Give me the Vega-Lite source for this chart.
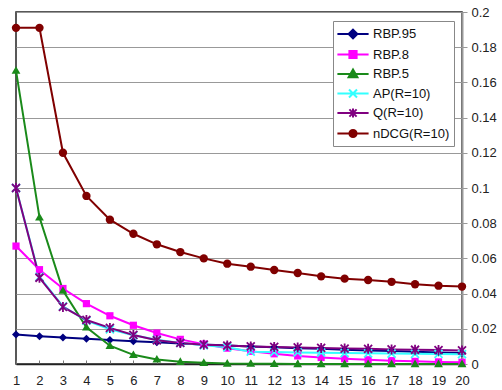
{
  "$schema": "https://vega.github.io/schema/vega-lite/v6.json",
  "width": 446,
  "height": 352,
  "autosize": "none",
  "padding": {"left": 16, "top": 12, "right": 40, "bottom": 26},
  "config": {
    "view": {"stroke": "#222", "strokeWidth": 1.5},
    "font": "Liberation Sans"
  },
  "data": {"values": [
    {"rank":1,"series":"RBP.95","value":0.0167},{"rank":2,"series":"RBP.95","value":0.0158},{"rank":3,"series":"RBP.95","value":0.0150},{"rank":4,"series":"RBP.95","value":0.0143},{"rank":5,"series":"RBP.95","value":0.0136},{"rank":6,"series":"RBP.95","value":0.0129},{"rank":7,"series":"RBP.95","value":0.0123},{"rank":8,"series":"RBP.95","value":0.0116},{"rank":9,"series":"RBP.95","value":0.0111},{"rank":10,"series":"RBP.95","value":0.0105},{"rank":11,"series":"RBP.95","value":0.0100},{"rank":12,"series":"RBP.95","value":0.0095},{"rank":13,"series":"RBP.95","value":0.0090},{"rank":14,"series":"RBP.95","value":0.0086},{"rank":15,"series":"RBP.95","value":0.0081},{"rank":16,"series":"RBP.95","value":0.0077},{"rank":17,"series":"RBP.95","value":0.0074},{"rank":18,"series":"RBP.95","value":0.0070},{"rank":19,"series":"RBP.95","value":0.0066},{"rank":20,"series":"RBP.95","value":0.0063},
    {"rank":1,"series":"RBP.8","value":0.0670},{"rank":2,"series":"RBP.8","value":0.0536},{"rank":3,"series":"RBP.8","value":0.0429},{"rank":4,"series":"RBP.8","value":0.0343},{"rank":5,"series":"RBP.8","value":0.0274},{"rank":6,"series":"RBP.8","value":0.0220},{"rank":7,"series":"RBP.8","value":0.0176},{"rank":8,"series":"RBP.8","value":0.0140},{"rank":9,"series":"RBP.8","value":0.0113},{"rank":10,"series":"RBP.8","value":0.0090},{"rank":11,"series":"RBP.8","value":0.0072},{"rank":12,"series":"RBP.8","value":0.0058},{"rank":13,"series":"RBP.8","value":0.0046},{"rank":14,"series":"RBP.8","value":0.0037},{"rank":15,"series":"RBP.8","value":0.0030},{"rank":16,"series":"RBP.8","value":0.0024},{"rank":17,"series":"RBP.8","value":0.0019},{"rank":18,"series":"RBP.8","value":0.0015},{"rank":19,"series":"RBP.8","value":0.0012},{"rank":20,"series":"RBP.8","value":0.0010},
    {"rank":1,"series":"RBP.5","value":0.1667},{"rank":2,"series":"RBP.5","value":0.0833},{"rank":3,"series":"RBP.5","value":0.0417},{"rank":4,"series":"RBP.5","value":0.0208},{"rank":5,"series":"RBP.5","value":0.0104},{"rank":6,"series":"RBP.5","value":0.0052},{"rank":7,"series":"RBP.5","value":0.0026},{"rank":8,"series":"RBP.5","value":0.0013},{"rank":9,"series":"RBP.5","value":0.0007},{"rank":10,"series":"RBP.5","value":0.0003},{"rank":11,"series":"RBP.5","value":0.0002},{"rank":12,"series":"RBP.5","value":0.0001},{"rank":13,"series":"RBP.5","value":0.0},{"rank":14,"series":"RBP.5","value":0.0},{"rank":15,"series":"RBP.5","value":0.0},{"rank":16,"series":"RBP.5","value":0.0},{"rank":17,"series":"RBP.5","value":0.0},{"rank":18,"series":"RBP.5","value":0.0},{"rank":19,"series":"RBP.5","value":0.0},{"rank":20,"series":"RBP.5","value":0.0},
    {"rank":1,"series":"AP(R=10)","value":0.1000},{"rank":2,"series":"AP(R=10)","value":0.0495},{"rank":3,"series":"AP(R=10)","value":0.0328},{"rank":4,"series":"AP(R=10)","value":0.0246},{"rank":5,"series":"AP(R=10)","value":0.0197},{"rank":6,"series":"AP(R=10)","value":0.0163},{"rank":7,"series":"AP(R=10)","value":0.0138},{"rank":8,"series":"AP(R=10)","value":0.0120},{"rank":9,"series":"AP(R=10)","value":0.0106},{"rank":10,"series":"AP(R=10)","value":0.0095},{"rank":11,"series":"AP(R=10)","value":0.0070},{"rank":12,"series":"AP(R=10)","value":0.0068},{"rank":13,"series":"AP(R=10)","value":0.0066},{"rank":14,"series":"AP(R=10)","value":0.0064},{"rank":15,"series":"AP(R=10)","value":0.0062},{"rank":16,"series":"AP(R=10)","value":0.0061},{"rank":17,"series":"AP(R=10)","value":0.0059},{"rank":18,"series":"AP(R=10)","value":0.0058},{"rank":19,"series":"AP(R=10)","value":0.0057},{"rank":20,"series":"AP(R=10)","value":0.0056},
    {"rank":1,"series":"Q(R=10)","value":0.1000},{"rank":2,"series":"Q(R=10)","value":0.0490},{"rank":3,"series":"Q(R=10)","value":0.0324},{"rank":4,"series":"Q(R=10)","value":0.0250},{"rank":5,"series":"Q(R=10)","value":0.0205},{"rank":6,"series":"Q(R=10)","value":0.0165},{"rank":7,"series":"Q(R=10)","value":0.0135},{"rank":8,"series":"Q(R=10)","value":0.0120},{"rank":9,"series":"Q(R=10)","value":0.0110},{"rank":10,"series":"Q(R=10)","value":0.0105},{"rank":11,"series":"Q(R=10)","value":0.0100},{"rank":12,"series":"Q(R=10)","value":0.0097},{"rank":13,"series":"Q(R=10)","value":0.0094},{"rank":14,"series":"Q(R=10)","value":0.0091},{"rank":15,"series":"Q(R=10)","value":0.0088},{"rank":16,"series":"Q(R=10)","value":0.0086},{"rank":17,"series":"Q(R=10)","value":0.0083},{"rank":18,"series":"Q(R=10)","value":0.0081},{"rank":19,"series":"Q(R=10)","value":0.0079},{"rank":20,"series":"Q(R=10)","value":0.0077},
    {"rank":1,"series":"nDCG(R=10)","value":0.191},{"rank":2,"series":"nDCG(R=10)","value":0.191},{"rank":3,"series":"nDCG(R=10)","value":0.120},{"rank":4,"series":"nDCG(R=10)","value":0.0955},{"rank":5,"series":"nDCG(R=10)","value":0.082},{"rank":6,"series":"nDCG(R=10)","value":0.074},{"rank":7,"series":"nDCG(R=10)","value":0.068},{"rank":8,"series":"nDCG(R=10)","value":0.0636},{"rank":9,"series":"nDCG(R=10)","value":0.060},{"rank":10,"series":"nDCG(R=10)","value":0.057},{"rank":11,"series":"nDCG(R=10)","value":0.0553},{"rank":12,"series":"nDCG(R=10)","value":0.0534},{"rank":13,"series":"nDCG(R=10)","value":0.0517},{"rank":14,"series":"nDCG(R=10)","value":0.0498},{"rank":15,"series":"nDCG(R=10)","value":0.0485},{"rank":16,"series":"nDCG(R=10)","value":0.0477},{"rank":17,"series":"nDCG(R=10)","value":0.0467},{"rank":18,"series":"nDCG(R=10)","value":0.0453},{"rank":19,"series":"nDCG(R=10)","value":0.0445},{"rank":20,"series":"nDCG(R=10)","value":0.0440}
  ]},
  "encoding": {
    "x": {
      "field": "rank", "type": "quantitative",
      "scale": {"domain": [1, 20], "nice": false, "zero": false},
      "axis": {
        "title": null, "values": [1,2,3,4,5,6,7,8,9,10,11,12,13,14,15,16,17,18,19,20],
        "format": "d", "grid": false, "domainColor": "#222", "domainWidth": 1.5,
        "tickColor": "#777", "tickSize": -4, "labelPadding": 14,
        "labelFontSize": 13, "labelColor": "#222", "labelOverlap": false, "labelFlush": false, "labelBound": false
      }
    },
    "y": {
      "field": "value", "type": "quantitative",
      "scale": {"domain": [0, 0.2], "nice": false},
      "axis": {
        "title": null, "orient": "right", "values": [0,0.02,0.04,0.06,0.08,0.1,0.12,0.14,0.16,0.18,0.2],
        "format": "~g", "grid": true, "gridColor": "#999", "gridWidth": 1,
        "domainColor": "#999", "domainWidth": 2, "tickColor": "#999", "tickSize": 5,
        "labelPadding": 4, "labelFontSize": 13, "labelColor": "#222", "labelOverlap": false, "labelFlush": false, "labelBound": false
      }
    },
    "color": {
      "field": "series", "type": "nominal",
      "scale": {
        "domain": ["RBP.95", "RBP.8", "RBP.5", "AP(R=10)", "Q(R=10)", "nDCG(R=10)"],
        "range": ["#000080", "#FF00FF", "#1a8a1a", "#33FFFF", "#800080", "#800000"]
      },
      "legend": {
        "orient": "none", "legendX": 317, "legendY": 9, "title": null,
        "strokeColor": "#888", "fillColor": "white", "padding": 4,
        "labelFontSize": 13, "labelColor": "#111", "labelFont": "Liberation Sans",
        "symbolSize": 256, "symbolOffset": 7, "labelOffset": 11, "rowPadding": 2.5,
        "symbolStrokeWidth": 2,
        "encode": {
          "symbols": {
            "update": {
              "shape": {"signal": "datum.value === 'RBP.95' ? 'M-1.95,0H1.95M0,-0.55L0.55,0L0,0.55L-0.55,0Z' : datum.value === 'RBP.8' ? 'M-1.95,0H1.95M-0.45,-0.45H0.45V0.45H-0.45Z' : datum.value === 'RBP.5' ? 'M-1.95,0H1.95M0,-0.55L0.55,0.4L-0.55,0.4Z' : datum.value === 'AP(R=10)' ? 'M-1.95,0H1.95M-0.5,-0.5L0.5,0.5M-0.5,0.5L0.5,-0.5' : datum.value === 'Q(R=10)' ? 'M-1.95,0H1.95M-0.45,-0.45L0.45,0.45M-0.45,0.45L0.45,-0.45M0,-0.55V0.55' : 'M-1.95,0H1.95M-0.45,0A0.45,0.45 0 1,0 0.45,0A0.45,0.45 0 1,0 -0.45,0Z'"},
              "fill": {"scale": "color", "field": "value"},
              "stroke": {"scale": "color", "field": "value"},
              "strokeWidth": {"value": 2},
              "opacity": {"value": 1}
            }
          }
        }
      }
    }
  },
  "layer": [
    {"mark": {"type": "line", "strokeWidth": 2}},
    {
      "transform": [{"filter": "datum.series === 'RBP.95'"}],
      "mark": {"type": "point", "shape": "M0,-1L1,0L0,1L-1,0Z", "filled": true, "size": 64, "opacity": 1}
    },
    {
      "transform": [{"filter": "datum.series === 'RBP.8'"}],
      "mark": {"type": "point", "shape": "M-0.9,-0.9H0.9V0.9H-0.9Z", "filled": true, "size": 64, "opacity": 1}
    },
    {
      "transform": [{"filter": "datum.series === 'RBP.5'"}],
      "mark": {"type": "point", "shape": "M0,-1.1L1.1,0.8L-1.1,0.8Z", "filled": true, "size": 64, "opacity": 1}
    },
    {
      "transform": [{"filter": "datum.series === 'AP(R=10)'"}],
      "mark": {"type": "point", "shape": "M-1,-1L1,1M-1,1L1,-1", "filled": false, "size": 64, "opacity": 1, "strokeWidth": 1.8}
    },
    {
      "transform": [{"filter": "datum.series === 'Q(R=10)'"}],
      "mark": {"type": "point", "shape": "M-1,-1L1,1M-1,1L1,-1M0,-1.25V1.25", "filled": false, "size": 64, "opacity": 1, "strokeWidth": 1.8}
    },
    {
      "transform": [{"filter": "datum.series === 'nDCG(R=10)'"}],
      "mark": {"type": "point", "shape": "circle", "filled": true, "size": 70, "opacity": 1}
    }
  ]
}
